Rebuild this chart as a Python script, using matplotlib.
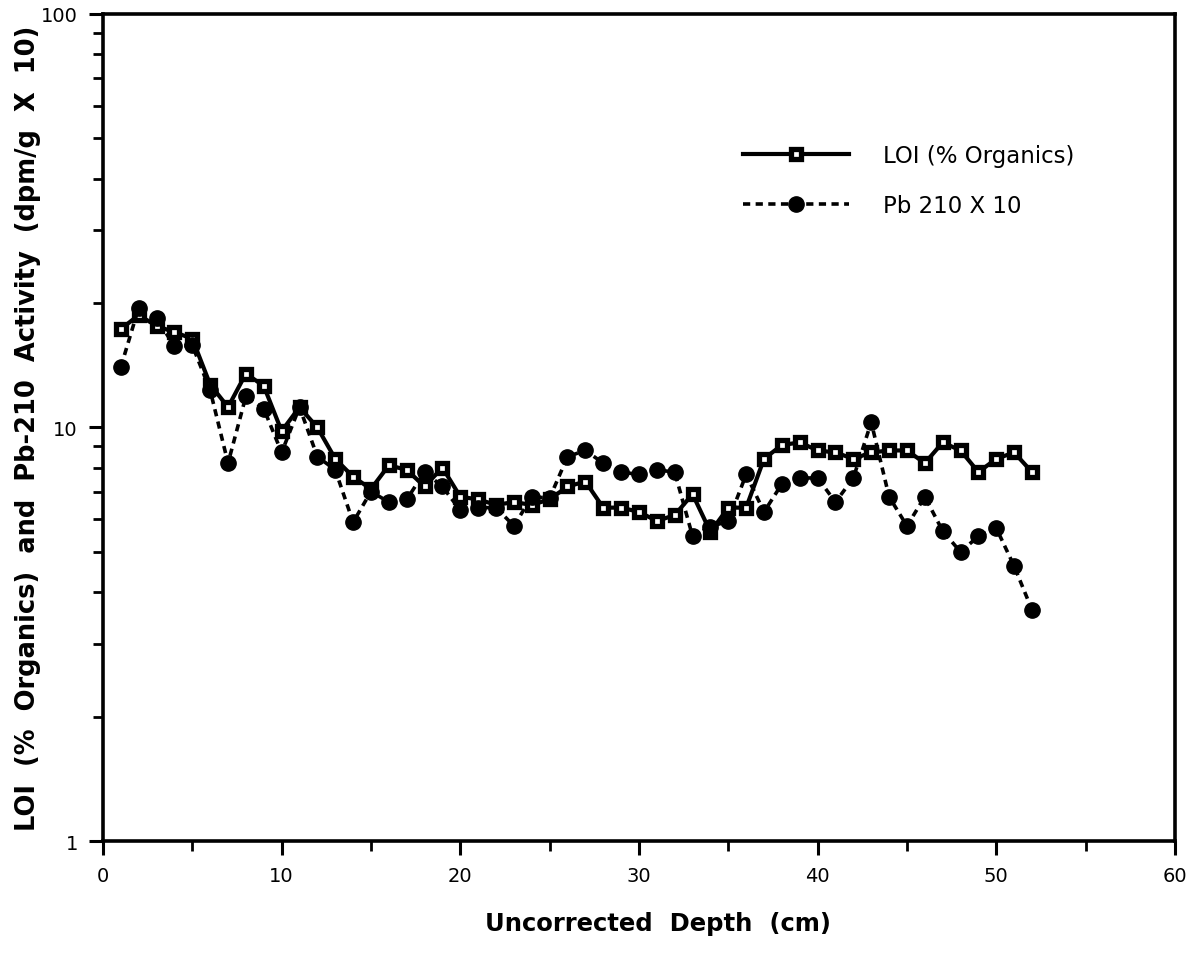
import matplotlib
matplotlib.use("Agg")
import matplotlib.pyplot as plt
from matplotlib.ticker import FixedLocator, NullFormatter, LogLocator

depth = list(range(1, 53))
loi = [17.3, 18.7, 17.6, 17.0, 16.4, 12.7, 11.2, 13.5, 12.6, 9.8,
       11.2, 10.0, 8.4, 7.6, 7.1, 8.1, 7.9, 7.2, 8.0, 6.8,
       6.7, 6.5, 6.6, 6.5, 6.7, 7.2, 7.4, 6.4, 6.4, 6.25,
       5.94, 6.14, 6.9, 5.59, 6.4, 6.4, 8.4, 9.07, 9.2, 8.8,
       8.7, 8.4, 8.7, 8.8, 8.8, 8.2, 9.2, 8.8, 7.8, 8.4,
       8.7, 7.8]
pb = [14.0, 19.5, 18.4, 15.7, 15.8, 12.3, 8.2, 11.9, 11.1, 8.7,
      11.2, 8.5, 7.9, 5.9, 7.0, 6.6, 6.7, 7.8, 7.2, 6.3,
      6.4, 6.4, 5.78, 6.8, 6.75, 8.5, 8.8, 8.2, 7.8, 7.7,
      7.9, 7.8, 5.46, 5.75, 5.94, 7.7, 6.25, 7.3, 7.55, 7.55,
      6.6, 7.55, 10.3, 6.8, 5.78, 6.8, 5.62, 5.0, 5.46, 5.71,
      4.62, 3.62]
xticks = [0, 10, 20, 30, 40, 50, 60]
yticks = [1, 10, 100]
ytick_labels = ["1", "10", "100"]

fig = plt.figure(figsize=(11.96, 9.54), dpi=100)
ax = fig.add_axes([0.0861, 0.1174, 0.8963, 0.8669])

ax.plot(depth, loi, color="black", lw=3, marker="s", ms=6.8, mew=3.8,
        mfc="white", mec="black", label="LOI (% Organics)", zorder=3)
ax.plot(depth, pb, color="black", lw=2.6, linestyle=(0, (2.0, 1.5)),
        dash_capstyle="butt", marker="o", ms=11.0, mfc="black", mec="black",
        label="Pb 210 X 10", zorder=4)

ax.set_yscale("log")
ax.set_xlim(0, 60)
ax.set_ylim(1, 100)
ax.set_xticks(xticks)
ax.set_xticklabels([str(v) for v in xticks])
ax.xaxis.set_minor_locator(FixedLocator([5, 15, 25, 35, 45, 55]))
ax.set_yticks(yticks)
ax.set_yticklabels(ytick_labels)
ax.yaxis.set_minor_locator(LogLocator(base=10, subs=range(2, 10)))
ax.yaxis.set_minor_formatter(NullFormatter())

for s in ax.spines.values():
    s.set_linewidth(2.6)
ax.tick_params(which="major", direction="out", length=10, width=2.2,
               labelsize=14, pad=8)
ax.tick_params(which="minor", direction="out", length=7, width=2.0)

ax.set_xlabel("Uncorrected  Depth  (cm)", fontsize=17.5, fontweight="bold",
              family="DejaVu Sans")
ax.xaxis.set_label_coords(0.518, -0.085)
ax.set_ylabel("LOI  (%  Organics)  and  Pb-210  Activity  (dpm/g  X  10)",
              fontsize=18.5, fontweight="bold", family="DejaVu Sans")
ax.yaxis.set_label_coords(-0.058, 0.5)

leg = ax.legend(loc="upper left", bbox_to_anchor=(0.578, 0.868), frameon=False,
                handlelength=4.6, handletextpad=1.5, labelspacing=1.2,
                prop={"family": "DejaVu Sans", "size": 16.5})

fig.savefig("out.png", dpi=100, facecolor="white")
